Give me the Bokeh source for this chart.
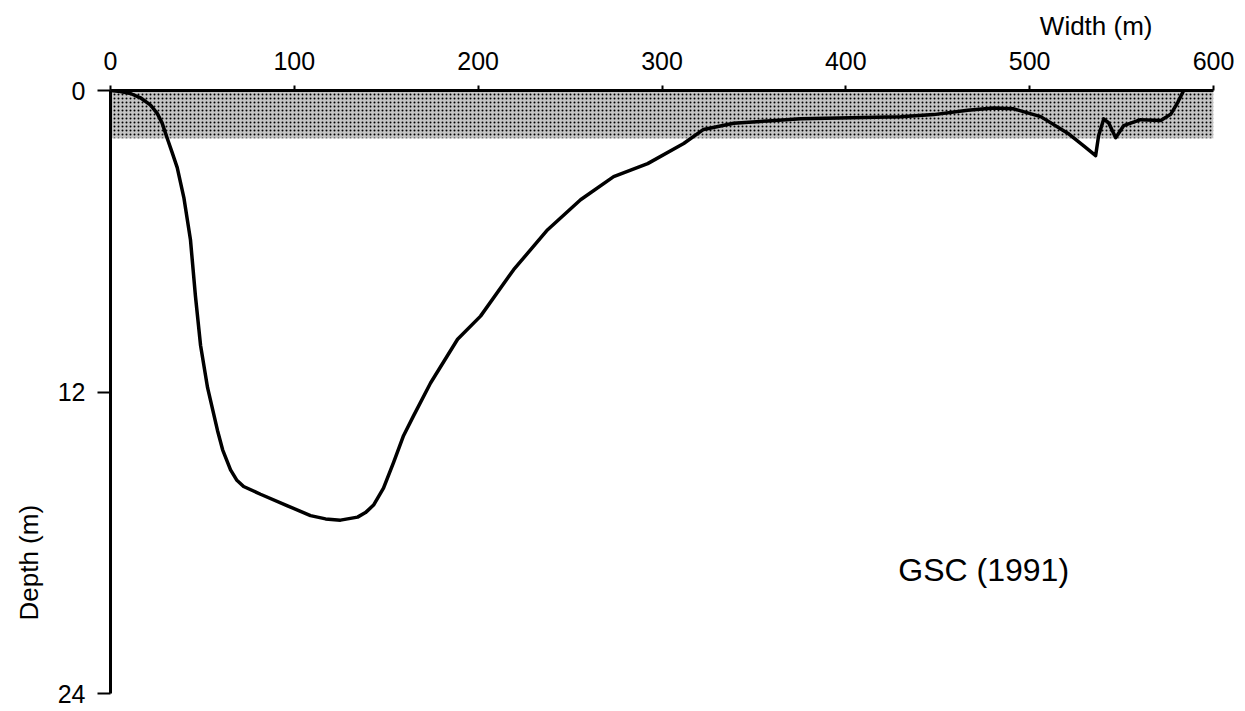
import math
from bokeh.plotting import figure
from bokeh.models import Range1d, FixedTicker, Label, Title
from bokeh.embed import file_html
from bokeh.resources import INLINE

# Cross-section profile (GSC 1991): width across channel (m) vs depth (m)
width_m = [0, 5.4, 10.9, 16.3, 21.8, 25.4, 28.1, 30.8, 33.6, 36.3, 39.9,
           43.5, 46.2, 49.0, 52.8, 58.2, 61.0, 65.3, 68.6, 72.4, 81.6, 96.3,
           108.8, 117.0, 125.1, 134.4, 138.7, 143.1, 148.5, 154.0,
           159.4, 164.9, 174.1, 188.8, 201.3, 219.3, 237.8, 255.7, 273.7, 292.2,
           311.8, 322.6, 339.0, 357.5, 375.4, 429.8, 447.8, 466.3, 480.4, 491.3,
           506.0, 520.7, 529.4, 535.9, 537.5, 540.3, 543.0, 546.8, 551.1, 560.4,
           571.3, 576.7, 580.5, 583.8]
depth_m = [0, 0.04, 0.12, 0.29, 0.58, 0.91, 1.30, 1.89, 2.48, 3.07, 4.26,
           5.94, 8.18, 10.15, 11.83, 13.53, 14.3, 15.1, 15.5, 15.76, 16.07, 16.53,
           16.92, 17.05, 17.1, 16.98, 16.8, 16.5, 15.83, 14.8,
           13.74, 12.94, 11.64, 9.9, 8.98, 7.13, 5.54, 4.35, 3.43, 2.91,
           2.11, 1.55, 1.30, 1.21, 1.12, 1.04, 0.96, 0.79, 0.70, 0.73,
           1.04, 1.70, 2.2, 2.59, 1.80, 1.13, 1.29, 1.88, 1.40, 1.16,
           1.19, 0.95, 0.48, 0]

# Shaded surface layer
band_left = [0]
band_right = [600]
band_top = [0]
band_bottom = [1.9]

x_ticks = [0, 100, 200, 300, 400, 500, 600]
y_ticks = [0, 12, 24]

FONT = "Liberation Sans"

p = figure(width=1240, height=706, output_backend="svg", toolbar_location=None,
           x_range=Range1d(0, 600), y_range=Range1d(24, 0),
           x_axis_location="above", min_border_left=110, min_border_right=27,
           min_border_top=90, min_border_bottom=13)
p.outline_line_color = None
p.xgrid.visible = False
p.ygrid.visible = False
p.background_fill_color = "white"
p.border_fill_color = "white"

p.quad(left=band_left, right=band_right, top=band_top, bottom=band_bottom,
       fill_color="#c4c4c4", line_color=None,
       hatch_pattern="dot", hatch_color="#000000", hatch_scale=4, hatch_weight=2.1)

p.line(width_m, depth_m, line_color="black", line_width=3.5, line_join="round", line_cap="round")

xa = p.xaxis[0]
xa.ticker = FixedTicker(ticks=x_ticks)
xa.axis_line_width = 3
xa.axis_line_color = "black"
xa.major_tick_out = 5
xa.major_tick_in = 0
xa.major_tick_line_width = 2
xa.minor_tick_out = 0
xa.minor_tick_in = 0
xa.major_label_standoff = 16
xa.major_label_text_font = FONT
xa.major_label_text_font_size = "25px"
xa.major_label_text_color = "black"

ya = p.yaxis[0]
ya.ticker = FixedTicker(ticks=y_ticks)
ya.axis_line_width = 3
ya.axis_line_color = "black"
ya.major_tick_out = 13
ya.major_tick_in = 0
ya.major_tick_line_width = 2
ya.minor_tick_out = 0
ya.minor_tick_in = 0
ya.major_label_standoff = 12
ya.major_label_text_font = FONT
ya.major_label_text_font_size = "25px"
ya.major_label_text_color = "black"

p.add_layout(Title(text="Width (m)", align="right", offset=61, standoff=16,
                   text_font=FONT, text_font_size="26px", text_font_style="normal",
                   text_color="black"), "above")
p.add_layout(Title(text="Depth (m)", align="left", offset=73, standoff=22,
                   text_font=FONT, text_font_size="26px", text_font_style="normal",
                   text_color="black"), "left")
p.add_layout(Label(x=475, y=19.1, text="GSC (1991)", text_align="center",
                   text_baseline="middle", text_font=FONT,
                   text_font_size="32px", text_color="black"))

open("out.html", "w").write(file_html(p, INLINE))
